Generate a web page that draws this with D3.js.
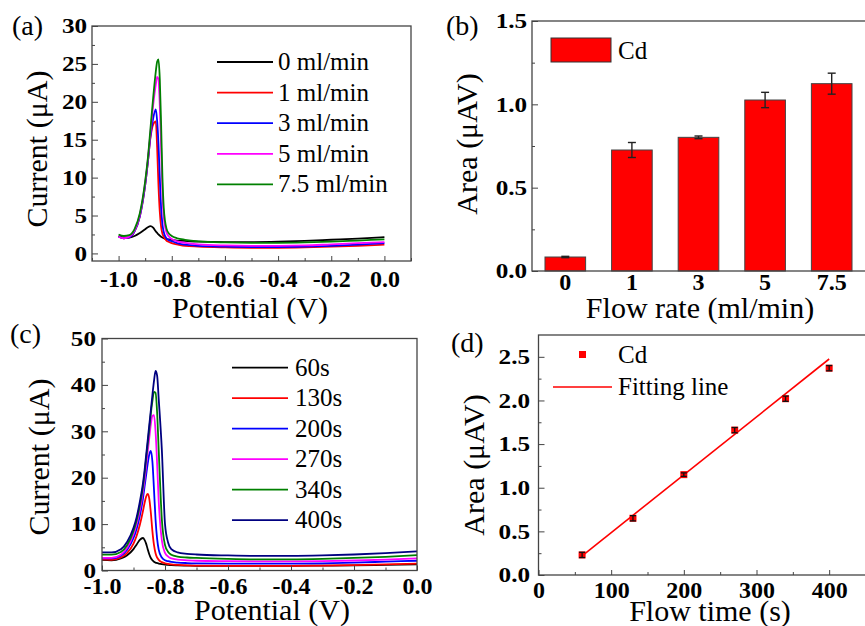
<!DOCTYPE html>
<html>
<head>
<meta charset="utf-8">
<script src="https://cdnjs.cloudflare.com/ajax/libs/d3/7.8.5/d3.min.js"></script>
<style>
body { margin: 0; background: #fff; }
text { font-family: "Liberation Serif", "Times New Roman", serif; }
</style>
</head>
<body>
<div id="chart"></div>
<script>
const w = 865;
const h = 626;

// ---- (a) stripping curves at different flow rates
const flowNames = ["0 ml/min", "1 ml/min", "3 ml/min", "5 ml/min", "7.5 ml/min"];
const potentialA = [-1.0, -0.98, -0.96, -0.94, -0.92, -0.90, -0.89, -0.88, -0.87, -0.86, -0.855, -0.85, -0.845, -0.84, -0.835, -0.83, -0.82, -0.81, -0.80, -0.78, -0.75, -0.7, -0.6, -0.5, -0.4, -0.3, -0.2, -0.1, 0.0];
const flow0 = [2.3, 2.1, 2.1, 2.3, 2.7, 3.2, 3.45, 3.6, 3.4, 2.9, 2.7, 2.5, 2.35, 2.2, 2.1, 2.0, 1.9, 1.85, 1.8, 1.7, 1.65, 1.55, 1.5, 1.5, 1.55, 1.65, 1.8, 1.95, 2.15];
const flow1 = [2.2, 2.0, 2.1, 2.9, 4.9, 9.0, 12.0, 15.3, 17.0, 17.4, 14.0, 9.0, 5.5, 3.5, 2.6, 2.2, 1.7, 1.5, 1.35, 1.2, 1.0, 0.9, 0.8, 0.75, 0.75, 0.8, 0.9, 1.0, 1.15];
const flow3 = [2.2, 2.0, 2.1, 2.9, 4.9, 9.0, 12.0, 15.5, 17.8, 19.0, 17.5, 14.5, 10.0, 6.0, 3.8, 2.8, 2.0, 1.75, 1.6, 1.35, 1.15, 1.0, 0.9, 0.85, 0.85, 0.9, 1.0, 1.15, 1.35];
const flow5 = [2.2, 2.0, 2.2, 3.0, 5.1, 9.3, 12.3, 16.0, 19.5, 22.3, 23.3, 23.0, 19.5, 14.0, 8.0, 4.8, 2.8, 2.2, 1.9, 1.6, 1.4, 1.2, 1.05, 1.0, 1.0, 1.05, 1.2, 1.35, 1.5];
const flow75 = [2.5, 2.3, 2.4, 3.2, 5.3, 9.5, 12.5, 16.5, 20.5, 24.0, 25.3, 25.6, 23.0, 17.0, 10.0, 6.0, 3.3, 2.6, 2.3, 2.0, 1.8, 1.6, 1.45, 1.4, 1.4, 1.45, 1.55, 1.7, 1.85];

// ---- (b) peak area vs flow rate
const flowRates = ["0", "1", "3", "5", "7.5"];
const areaB = [0.084, 0.726, 0.802, 1.026, 1.124];
const errB = [0.004, 0.045, 0.008, 0.046, 0.063];

// ---- (c) stripping curves at different deposition times
const timeNames = ["60s", "130s", "200s", "270s", "340s", "400s"];
const potentialC = [-1.0, -0.97, -0.94, -0.92, -0.90, -0.89, -0.88, -0.87, -0.865, -0.86, -0.855, -0.85, -0.845, -0.84, -0.835, -0.83, -0.825, -0.82, -0.81, -0.80, -0.79, -0.78, -0.76, -0.73, -0.7, -0.6, -0.5, -0.4, -0.3, -0.2, -0.1, 0.0];
const t60 = [2.3, 2.2, 2.6, 3.3, 4.6, 5.6, 6.6, 7.0, 6.6, 5.8, 4.6, 3.5, 2.7, 2.2, 1.9, 1.7, 1.6, 1.5, 1.35, 1.25, 1.2, 1.15, 1.1, 1.05, 1.0, 1.0, 1.0, 1.0, 1.05, 1.1, 1.2, 1.3];
const t130 = [2.4, 2.3, 2.8, 3.8, 5.8, 7.5, 9.8, 12.8, 14.5, 15.9, 16.5, 15.5, 12.5, 8.5, 5.5, 3.7, 2.8, 2.3, 1.8, 1.55, 1.4, 1.3, 1.2, 1.1, 1.05, 1.0, 1.0, 1.0, 1.05, 1.15, 1.3, 1.5];
const t200 = [2.6, 2.6, 3.2, 4.5, 7.0, 9.0, 11.8, 15.5, 18.0, 20.5, 23.0, 25.0, 25.8, 23.5, 17.5, 11.0, 6.8, 4.5, 2.8, 2.2, 2.0, 1.85, 1.7, 1.6, 1.55, 1.5, 1.5, 1.5, 1.55, 1.7, 1.9, 2.1];
const t270 = [2.7, 2.7, 3.4, 4.9, 7.8, 10.0, 13.0, 17.0, 19.5, 22.5, 25.5, 28.5, 31.5, 33.3, 33.5, 30.0, 23.0, 15.0, 6.5, 3.8, 3.0, 2.6, 2.35, 2.2, 2.1, 2.0, 1.95, 1.95, 2.0, 2.15, 2.35, 2.6];
const t340 = [3.4, 3.4, 4.0, 5.5, 8.5, 10.8, 14.0, 18.0, 20.8, 24.0, 27.2, 30.5, 33.8, 36.5, 38.5, 38.3, 34.0, 26.0, 11.0, 5.5, 4.0, 3.4, 3.0, 2.8, 2.7, 2.5, 2.4, 2.4, 2.5, 2.7, 2.95, 3.3];
const t400 = [3.9, 3.9, 4.6, 6.2, 9.2, 11.5, 14.8, 18.8, 21.5, 24.8, 28.0, 31.3, 34.5, 37.8, 40.8, 43.0, 42.0, 37.0, 26.0, 10.0, 6.0, 4.6, 3.9, 3.6, 3.45, 3.25, 3.15, 3.15, 3.25, 3.45, 3.75, 4.1];

// ---- (d) peak area vs flow time
const flowTime = [60, 130, 200, 270, 340, 400];
const areaD = [0.23, 0.65, 1.15, 1.66, 2.02, 2.37];
const errD = [0.03, 0.03, 0.02, 0.03, 0.03, 0.03];
const fitTime = [60, 400];
const fitArea = [0.22, 2.475];

const colorsA = ["#000000", "#ff0000", "#0000ff", "#ff00ff", "#008000"];
const colorsC = ["#000000", "#ff0000", "#0000ff", "#ff00ff", "#008000", "#000080"];

let svg = d3.select('#chart')
	.append('svg')
		.attr('width', w)
		.attr('height', h);

// tick labels in the picture are drawn wide, hence the x stretch
function styleAxis(g, size, stretch) {
	g.attr('font-size', null).attr('font-family', null)
	g.select('.domain').remove()
	g.selectAll('line').attr('stroke', '#444')
	g.selectAll('text')
		.attr('font-size', size)
		.attr('font-weight', 'bold')
		.attr('fill', '#000')
		.attr('transform', stretch ? `scale(${stretch},1)` : null)
}

function drawFrame(box, x, y, cfg) {
	svg.append('rect')
		.attr('x', box.l).attr('y', box.t)
		.attr('width', box.r - box.l).attr('height', box.b - box.t)
		.attr('fill', 'none')
		.attr('stroke', '#444')
		.attr('stroke-width', 1.3)

	if (cfg.xMajor) {
		svg.append('g')
			.attr('transform', `translate(0,${box.b})`)
			.call(d3.axisBottom(x).tickValues(cfg.xMajor).tickSizeInner(-5).tickSizeOuter(0)
				.tickPadding(cfg.xPad).tickFormat(cfg.xFmt))
			.call(g => styleAxis(g, 24))
		svg.append('g')
			.attr('transform', `translate(0,${box.b})`)
			.call(d3.axisBottom(x).tickValues(cfg.xMinor).tickSizeInner(-3).tickSizeOuter(0).tickFormat(''))
			.call(g => styleAxis(g, 1))
	}
	svg.append('g')
		.attr('transform', `translate(${box.l},0)`)
		.call(d3.axisLeft(y).tickValues(cfg.yMajor).tickSizeInner(-6).tickSizeOuter(0)
			.tickPadding(cfg.yPad).tickFormat(cfg.yFmt))
		.call(g => styleAxis(g, 21, 1.2))
	svg.append('g')
		.attr('transform', `translate(${box.l},0)`)
		.call(d3.axisLeft(y).tickValues(cfg.yMinor).tickSizeInner(-3).tickSizeOuter(0).tickFormat(''))
		.call(g => styleAxis(g, 1))
}

function title(x, y, txt, rotate) {
	svg.append('text')
		.attr('transform', `translate(${x},${y})` + (rotate ? ' rotate(-90)' : ''))
		.attr('text-anchor', 'middle')
		.attr('font-size', 30)
		.text(txt)
}

function label(x, y, txt) {
	svg.append('text').attr('x', x).attr('y', y).attr('font-size', 28).text(txt)
}

const fmt1 = d => d.toFixed(1)
const fmt0 = d => d.toFixed(0)

// ================= (a)
const boxA = {l: 92, t: 26, r: 411, b: 261}
const xA = d3.scaleLinear().domain([-1.1, 0.1]).range([boxA.l, boxA.r])
const yA = d3.scaleLinear().domain([-1, 30]).range([boxA.b, boxA.t])
const seriesA = [flow0, flow1, flow3, flow5, flow75]

seriesA.forEach((s, k) => {
	svg.append('path')
		.datum(s)
		.attr('fill', 'none')
		.attr('stroke', colorsA[k])
		.attr('stroke-width', 1.8)
		.attr('d', d3.line().x((d, i) => xA(potentialA[i])).y(d => yA(d)).curve(d3.curveMonotoneX))
})
drawFrame(boxA, xA, yA, {
	xMajor: [-1.0, -0.8, -0.6, -0.4, -0.2, 0.0], xMinor: [-1.1, -0.9, -0.7, -0.5, -0.3, -0.1, 0.1],
	yMajor: [0, 5, 10, 15, 20, 25, 30], yMinor: [2.5, 7.5, 12.5, 17.5, 22.5, 27.5],
	xFmt: fmt1, yFmt: fmt0, xPad: 9, yPad: 4
})
flowNames.forEach((n, k) => {
	const yy = 62 + k * 30.6
	svg.append('line').attr('x1', 217).attr('x2', 273).attr('y1', yy).attr('y2', yy)
		.attr('stroke', colorsA[k]).attr('stroke-width', 1.8)
	svg.append('text').attr('x', 278).attr('y', yy + 8).attr('font-size', 25).text(n)
})
title(250, 318, 'Potential (V)')
title(47, 149, 'Current (\u03bcA)', true)
label(12, 35, '(a)')

// ================= (b)
const boxB = {l: 532, t: 21, r: 866, b: 271}
const xB = d3.scaleBand().domain(flowRates).range([boxB.l, 865]).paddingInner(0.39).paddingOuter(0.195)
const yB = d3.scaleLinear().domain([0, 1.5]).range([boxB.b, boxB.t])

svg.selectAll('rect.bar')
	.data(areaB)
	.enter()
	.append('rect')
	.attr('class', 'bar')
	.attr('x', (d, i) => xB(flowRates[i]))
	.attr('y', d => yB(d))
	.attr('width', xB.bandwidth())
	.attr('height', d => yB(0) - yB(d))
	.attr('fill', '#ff0000')
	.attr('stroke', '#444')
	.attr('stroke-width', 1)

areaB.forEach((v, i) => {
	const cx = xB(flowRates[i]) + xB.bandwidth() / 2
	const g = svg.append('g').attr('stroke', '#222').attr('stroke-width', 1.4)
	g.append('line').attr('x1', cx).attr('x2', cx).attr('y1', yB(v - errB[i])).attr('y2', yB(v + errB[i]))
	g.append('line').attr('x1', cx - 4).attr('x2', cx + 4).attr('y1', yB(v - errB[i])).attr('y2', yB(v - errB[i]))
	g.append('line').attr('x1', cx - 4).attr('x2', cx + 4).attr('y1', yB(v + errB[i])).attr('y2', yB(v + errB[i]))
})
drawFrame(boxB, xB, yB, {
	yMajor: [0, 0.5, 1.0, 1.5], yMinor: [0.25, 0.75, 1.25],
	yFmt: fmt1, yPad: 4
})
svg.append('g')
	.attr('transform', `translate(0,${boxB.b})`)
	.call(d3.axisBottom(xB).tickSize(0).tickPadding(2))
	.call(g => styleAxis(g, 24))

svg.append('rect').attr('x', 551).attr('y', 38).attr('width', 60).attr('height', 24)
	.attr('fill', '#ff0000').attr('stroke', '#333')
svg.append('text').attr('x', 618).attr('y', 59).attr('font-size', 25).text('Cd')
title(700, 318, 'Flow rate (ml/min)')
title(477, 144, 'Area (\u03bcAV)', true)
label(446, 35, '(b)')

// ================= (c)
const boxC = {l: 102, t: 338.5, r: 417, b: 570.5}
const xC = d3.scaleLinear().domain([-1, 0]).range([boxC.l, boxC.r])
const yC = d3.scaleLinear().domain([0, 50]).range([boxC.b, boxC.t])
const seriesC = [t60, t130, t200, t270, t340, t400]

seriesC.forEach((s, k) => {
	svg.append('path')
		.datum(s)
		.attr('fill', 'none')
		.attr('stroke', colorsC[k])
		.attr('stroke-width', 1.8)
		.attr('d', d3.line().x((d, i) => xC(potentialC[i])).y(d => yC(d)).curve(d3.curveMonotoneX))
})
drawFrame(boxC, xC, yC, {
	xMajor: [-1.0, -0.8, -0.6, -0.4, -0.2, 0.0], xMinor: [-0.9, -0.7, -0.5, -0.3, -0.1],
	yMajor: [0, 10, 20, 30, 40, 50], yMinor: [5, 15, 25, 35, 45],
	xFmt: fmt1, yFmt: fmt0, xPad: 6, yPad: 5
})
timeNames.forEach((n, k) => {
	const yy = 367.7 + k * 30.5
	svg.append('line').attr('x1', 232).attr('x2', 288).attr('y1', yy).attr('y2', yy)
		.attr('stroke', colorsC[k]).attr('stroke-width', 1.8)
	svg.append('text').attr('x', 295).attr('y', yy + 8).attr('font-size', 25).text(n)
})
title(272, 620, 'Potential (V)')
title(49, 457, 'Current (\u03bcA)', true)
label(10, 343, '(c)')

// ================= (d)
const boxD = {l: 538.5, t: 335, r: 866, b: 575}
const xD = d3.scaleLinear().domain([0, 450]).range([boxD.l, 865.5])
const yD = d3.scaleLinear().domain([0, 2.75]).range([boxD.b, boxD.t])

svg.append('path')
	.datum(fitArea)
	.attr('fill', 'none')
	.attr('stroke', '#ff0000')
	.attr('stroke-width', 1.6)
	.attr('d', d3.line().x((d, i) => xD(fitTime[i])).y(d => yD(d)))

svg.selectAll('rect.pt')
	.data(areaD)
	.enter()
	.append('rect')
	.attr('class', 'pt')
	.attr('x', (d, i) => xD(flowTime[i]) - 3.5)
	.attr('y', d => yD(d) - 3.5)
	.attr('width', 7)
	.attr('height', 7)
	.attr('fill', '#ff0000')

areaD.forEach((v, i) => {
	const cx = xD(flowTime[i])
	const g = svg.append('g').attr('stroke', '#111').attr('stroke-width', 1.3)
	g.append('line').attr('x1', cx).attr('x2', cx).attr('y1', yD(v - errD[i])).attr('y2', yD(v + errD[i]))
	g.append('line').attr('x1', cx - 3).attr('x2', cx + 3).attr('y1', yD(v - errD[i])).attr('y2', yD(v - errD[i]))
	g.append('line').attr('x1', cx - 3).attr('x2', cx + 3).attr('y1', yD(v + errD[i])).attr('y2', yD(v + errD[i]))
})
drawFrame(boxD, xD, yD, {
	xMajor: [0, 100, 200, 300, 400], xMinor: [50, 150, 250, 350],
	yMajor: [0, 0.5, 1.0, 1.5, 2.0, 2.5], yMinor: [0.25, 0.75, 1.25, 1.75, 2.25],
	xFmt: fmt0, yFmt: fmt1, xPad: 6, yPad: 7
})
svg.append('rect').attr('x', 579).attr('y', 351).attr('width', 7).attr('height', 7).attr('fill', '#ff0000')
svg.append('text').attr('x', 618).attr('y', 363).attr('font-size', 25).text('Cd')
svg.append('line').attr('x1', 553).attr('x2', 612).attr('y1', 387).attr('y2', 387)
	.attr('stroke', '#ff0000').attr('stroke-width', 1.6)
svg.append('text').attr('x', 618).attr('y', 395).attr('font-size', 25).text('Fitting line')
title(710, 621, 'Flow time (s)')
title(484, 465, 'Area (\u03bcAV)', true)
label(451, 352, '(d)')
</script>
</body>
</html>
